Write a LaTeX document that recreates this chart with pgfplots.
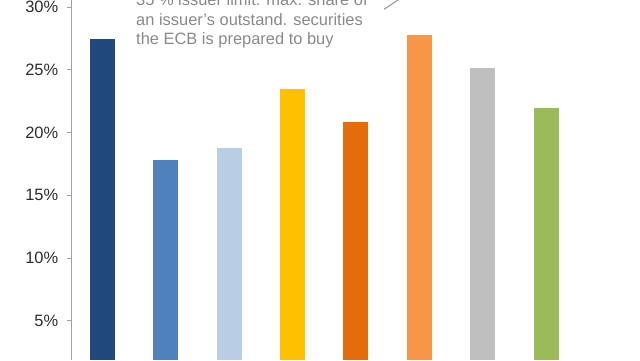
\documentclass[border=0pt]{standalone}
\usepackage{fontspec}
\setmainfont{Liberation Sans}
\usepackage{pgfplots}
\pgfplotsset{compat=1.18}
\definecolor{c1}{RGB}{31,73,125}
\definecolor{c2}{RGB}{79,129,189}
\definecolor{c3}{RGB}{185,205,229}
\definecolor{c4}{RGB}{255,192,0}
\definecolor{c5}{RGB}{228,108,10}
\definecolor{c6}{RGB}{247,150,70}
\definecolor{c7}{RGB}{191,191,191}
\definecolor{c8}{RGB}{155,187,89}
\definecolor{axisgray}{RGB}{160,160,160}
\definecolor{labelgray}{RGB}{45,45,45}
\definecolor{notegray}{RGB}{137,137,137}
\begin{document}
\begin{tikzpicture}[x=1bp,y=1bp]
\begin{axis}[
  at={(71.7bp,0bp)}, anchor=south west,
  scale only axis, width=568.3bp, height=360bp,
  xmin=-0.486, xmax=8.483, ymin=1.866, ymax=30.57,
  axis x line=none, axis y line*=left,
  ybar, bar width=25bp, bar shift=0pt,
  ytick={5,10,15,20,25,30},
  yticklabel={\pgfmathprintnumber{\tick}\%},
  tick align=outside, major tick length=5bp,
  y axis line style={color=axisgray, line width=0.8bp},
  ytick style={color=axisgray, line width=0.8bp},
  yticklabel style={font=\fontsize{16.5}{20}\selectfont, text=labelgray, xshift=-5bp},
  /pgf/number format/assume math mode=true,
]
\addplot[fill=c1, draw=none] coordinates {(0,27.45)};
\addplot[fill=c2, draw=none] coordinates {(1,17.8)};
\addplot[fill=c3, draw=none] coordinates {(2,18.8)};
\addplot[fill=c4, draw=none] coordinates {(3,23.45)};
\addplot[fill=c5, draw=none] coordinates {(4,20.85)};
\addplot[fill=c6, draw=none] coordinates {(5,27.75)};
\addplot[fill=c7, draw=none] coordinates {(6,25.15)};
\addplot[fill=c8, draw=none] coordinates {(7,21.95)};
\end{axis}
\begin{scope}[every node/.style={anchor=base west, inner sep=0pt, text=notegray, font=\fontsize{16.5}{20}\selectfont}]
\node at (136,355) {35 \% issuer limit: max. share of};
\node at (136,335) {an issuer’s outstand. securities};
\node at (136,315.5) {the ECB is prepared to buy};
\end{scope}
\draw[notegray, line width=0.9bp] (384,350.7) -- (414,370.6);
\pgfresetboundingbox
\useasboundingbox (0,0) rectangle (640,360);
\end{tikzpicture}
\end{document}
